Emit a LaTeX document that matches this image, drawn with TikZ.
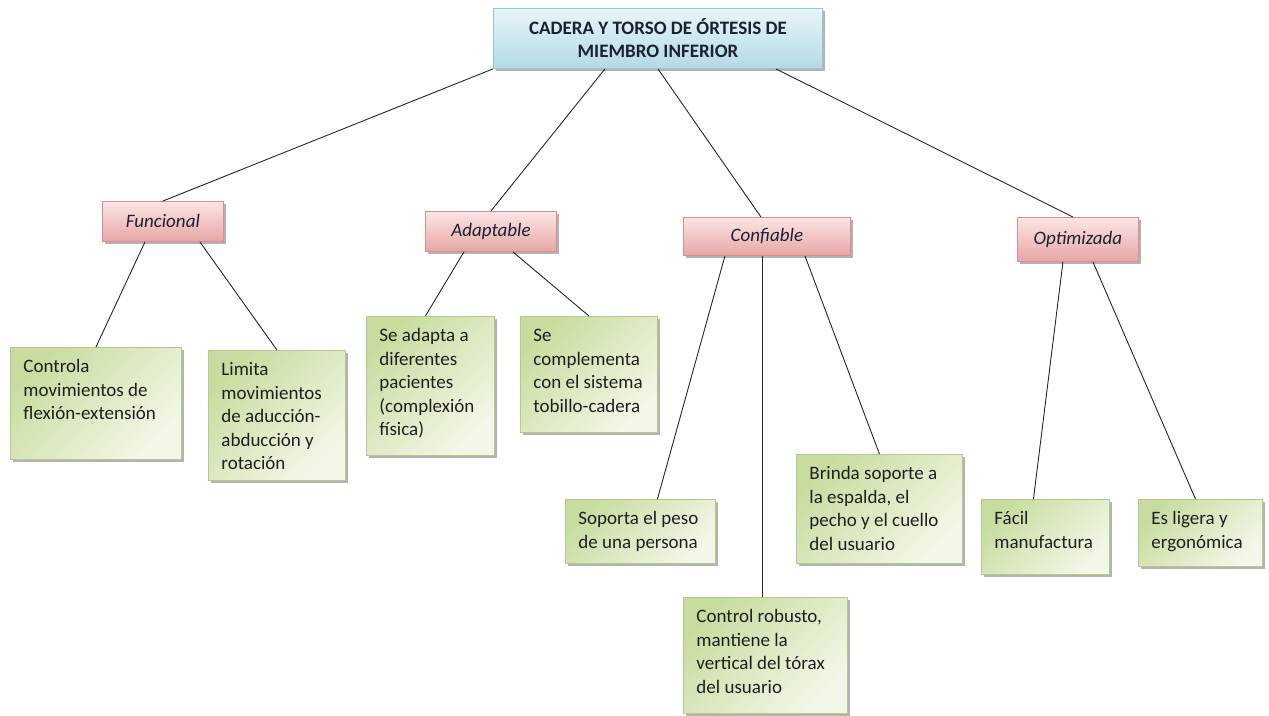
\documentclass[tikz,border=0pt]{standalone}
\usepackage{fontspec}
\setmainfont{Carlito}
\usetikzlibrary{shadows}

\definecolor{headtop}{HTML}{E9F5F9}
\definecolor{headbot}{HTML}{B2DAE6}
\definecolor{headline}{HTML}{8FC9DA}
\definecolor{cattop}{HTML}{FBE5E4}
\definecolor{catbot}{HTML}{E6A6A5}
\definecolor{catline}{HTML}{D98F8D}
\definecolor{leafdark}{HTML}{C8DC9F}
\definecolor{leaflight}{HTML}{F2F7E8}
\definecolor{leafline}{HTML}{B3CB88}
\definecolor{inktext}{HTML}{1C2033}

% text of a leaf box, kept at the top
\newcommand{\leaftext}[3]{\parbox[t][#2][t]{#1}{\raggedright\strut #3}}

\tikzset{
  boxshadow/.style={drop shadow={shadow xshift=3pt,shadow yshift=-3pt,fill=black!50,opacity=0.6}},
  link/.style={draw=black!85,line width=0.9pt}
}

\begin{document}
\begin{tikzpicture}[x=1pt,y=-1pt,
  headbox/.style={draw=headline,line width=0.9pt,top color=headtop,bottom color=headbot,
    boxshadow,anchor=north west,align=center,inner sep=0pt,
    font=\fontsize{19}{23}\selectfont\bfseries,text=inktext},
  catbox/.style={draw=catline,line width=0.9pt,top color=cattop,bottom color=catbot,
    boxshadow,anchor=north west,inner sep=0pt,
    font=\fontsize{19}{23}\selectfont\itshape,text=inktext},
  leafbox/.style={draw=leafline,line width=0.9pt,top color=leafdark,bottom color=leaflight,
    shading angle=45,boxshadow,anchor=north west,inner xsep=13pt,inner ysep=9pt,
    font=\fontsize{19}{23.5}\selectfont,text=black!88}]

  \useasboundingbox (0,0) rectangle (1269,715);

  % top
  \node[headbox,minimum width=329pt,minimum height=60pt] (head) at (493,8)
    {CADERA Y TORSO DE ÓRTESIS DE\\MIEMBRO INFERIOR};

  % categories
  \node[catbox,minimum width=121pt,minimum height=40pt] (fun) at (102,201) {Funcional};
  \node[catbox,minimum width=131pt,minimum height=40pt] (ada) at (425,211) {Adaptable};
  \node[catbox,minimum width=167pt,minimum height=38pt] (con) at (683,217) {Confiable};
  \node[catbox,minimum width=121pt,minimum height=44pt] (opt) at (1017,217) {Optimizada};

  % leaves
  \node[leafbox] (ctl) at (10,347)
    {\leaftext{145pt}{94pt}{Controla\\movimientos de\\flexión-extensión}};
  \node[leafbox] (lim) at (208,350)
    {\leaftext{111pt}{112pt}{Limita\\movimientos\\de aducción-\\abducción y\\rotación}};
  \node[leafbox] (sea) at (366,316)
    {\leaftext{102pt}{121pt}{Se adapta a\\diferentes\\pacientes\\(complexión\\física)}};
  \node[leafbox] (sec) at (520,316)
    {\leaftext{111pt}{98pt}{Se\\complementa\\con el sistema\\tobillo-cadera}};
  \node[leafbox] (sop) at (565,499)
    {\leaftext{124pt}{46pt}{Soporta el peso\\de una persona}};
  \node[leafbox] (rob) at (683,597)
    {\leaftext{138pt}{98pt}{Control robusto,\\mantiene la\\vertical del tórax\\del usuario}};
  \node[leafbox] (bri) at (796,454)
    {\leaftext{140pt}{91pt}{Brinda soporte a\\la espalda, el\\pecho y el cuello\\del usuario}};
  \node[leafbox] (fac) at (981,499)
    {\leaftext{102pt}{57pt}{Fácil\\manufactura}};
  \node[leafbox] (lig) at (1138,499)
    {\leaftext{98pt}{49pt}{Es ligera y\\ergonómica}};

  % connectors
  \draw[link] (head.south west) -- (fun.north);
  \draw[link] ([xshift=112pt]head.south west) -- (ada.north);
  \draw[link] (head.south) -- ([xshift=-6pt]con.north);
  \draw[link] ([xshift=118pt]head.south) -- ([xshift=-5pt]opt.north);

  \draw[link] ([xshift=43pt]fun.south west) -- (ctl.north);
  \draw[link] ([xshift=-24pt]fun.south east) -- (lim.north);
  \draw[link] ([xshift=-27pt]ada.south) -- ([xshift=-5pt]sea.north);
  \draw[link] ([xshift=22pt]ada.south) -- (sec.north);
  \draw[link] ([xshift=-42pt]con.south) -- ([xshift=17pt]sop.north);
  \draw[link] ([xshift=-4.5pt]con.south) -- ([xshift=-3pt]rob.north);
  \draw[link] ([xshift=38pt]con.south) -- (bri.north);
  \draw[link] ([xshift=-15pt]opt.south) -- ([xshift=-12pt]fac.north);
  \draw[link] ([xshift=15pt]opt.south) -- ([xshift=-5pt]lig.north);

\end{tikzpicture}
\end{document}
